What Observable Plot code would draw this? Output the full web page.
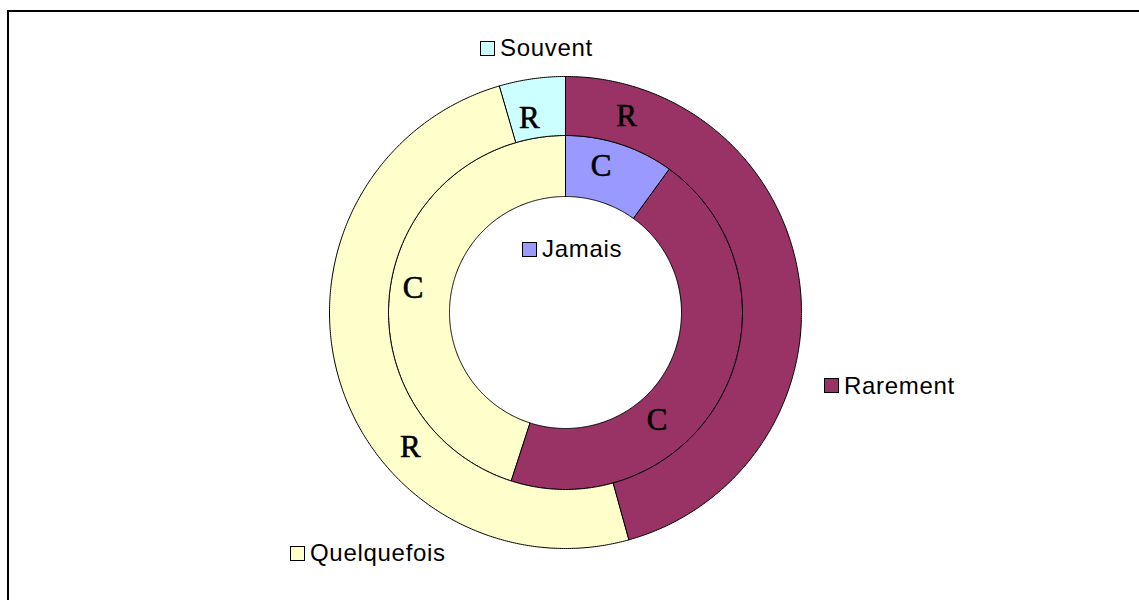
<!DOCTYPE html>
<html>
<head>
<meta charset="utf-8">
<script src="https://cdn.jsdelivr.net/npm/d3@7"></script>
<script src="https://cdn.jsdelivr.net/npm/@observablehq/plot@0.6"></script>
<style>
  html, body { margin: 0; padding: 0; background: #fff; overflow: hidden; width: 1139px; height: 600px; }
  #chart { position: absolute; left: 0; top: 0; }
  #frame { position: absolute; left: 7px; top: 10px; width: 1200px; height: 700px;
           border-left: 2px solid #000; border-top: 2px solid #000; pointer-events: none; }
  .item { position: absolute; display: flex; align-items: center; height: 24px;
          font-family: "Liberation Sans", Arial, sans-serif; font-size: 24px; line-height: 24px;
          letter-spacing: 0.7px; color: #000; white-space: nowrap; }
  .sw { display: inline-block; width: 13px; height: 13px; border: 1px solid #000; margin-right: 5px; }
</style>
</head>
<body>
<div id="chart"></div>
<div id="legend"></div>
<div id="frame"></div>
<script>
// ---- data ----
const categories = ["Jamais", "Rarement", "Quelquefois", "Souvent"];
const colors     = ["#9999FF", "#993366", "#FFFFCC", "#CCFFFF"];
const ringNames  = ["C", "R"];            // inner ring, outer ring
const seriesC    = [10, 45, 45, 0];       // inner ring (C)
const seriesR    = [0, 45.7, 49.8, 4.5];  // outer ring (R)

// ---- layout ----
const W = 1139, H = 600;
const cx = 565, cy = 312;
const radii = [116, 177, 236];
// where each ring label sits inside its slice: [fraction of sweep, fraction of ring width]
const labelPlace = [
  [[0.38, 0.57], [0.64, 0.42], [0.50, 0.63], [0.5, 0.5]],
  [[0.5, 0.5], [0.105, 0.49], [0.36, 0.48], [0.35, 0.36]]
];
// legend layout (left of swatch, vertical centre)
const legendLayout = {
  Souvent:     [480, 48],
  Jamais:      [522, 249],
  Rarement:    [824, 385.5],
  Quelquefois: [290, 553]
};

// ---- build ring polygons from values ----
const rings = [seriesC, seriesR];
const polys = [];
const labels = [];
rings.forEach((vals, ri) => {
  const total = d3.sum(vals);
  const r0 = radii[ri], r1 = radii[ri + 1];
  let acc = 0;
  vals.forEach((v, ci) => {
    if (v <= 0) return;
    const a0 = acc / total * 2 * Math.PI;
    acc += v;
    const a1 = acc / total * 2 * Math.PI;
    const n = Math.max(2, Math.ceil((a1 - a0) / (Math.PI / 360)));
    const key = ringNames[ri] + "-" + categories[ci];
    const pt = (r, a) => ({key, color: colors[ci], x: cx + r * Math.sin(a), y: cy - r * Math.cos(a)});
    for (let i = 0; i <= n; i++) polys.push(pt(r1, a0 + (a1 - a0) * i / n));
    for (let i = n; i >= 0; i--) polys.push(pt(r0, a0 + (a1 - a0) * i / n));
    const [fa, fr] = labelPlace[ri][ci];
    const am = a0 + (a1 - a0) * fa;
    const rm = r0 + (r1 - r0) * fr;
    labels.push({text: ringNames[ri], x: cx + rm * Math.sin(am), y: cy - rm * Math.cos(am)});
  });
});

const chart = Plot.plot({
  width: W, height: H, margin: 0,
  style: {background: "transparent"},
  x: {domain: [0, W], range: [0, W], axis: null},
  y: {domain: [0, H], range: [0, H], axis: null},
  color: {type: "identity"},
  marks: [
    Plot.line(polys, {x: "x", y: "y", z: "key", fill: "color", stroke: "#000", strokeWidth: 1, curve: "linear-closed"}),
    Plot.text(labels, {x: "x", y: "y", text: "text", fontFamily: "Liberation Serif", fontSize: 31,
                       fill: "#000", stroke: "#000", strokeWidth: 0.6})
  ]
});
document.getElementById("chart").appendChild(chart);

// ---- legend ----
const lg = document.getElementById("legend");
categories.forEach((c, i) => {
  const [l, yc] = legendLayout[c];
  const it = document.createElement("div");
  it.className = "item";
  it.style.left = l + "px";
  it.style.top = (yc - 12) + "px";
  const sw = document.createElement("span");
  sw.className = "sw";
  sw.style.background = colors[i];
  it.appendChild(sw);
  it.appendChild(document.createTextNode(c));
  lg.appendChild(it);
});
</script>
</body>
</html>
